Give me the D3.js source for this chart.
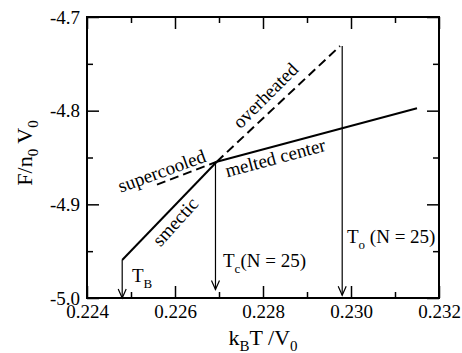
<!DOCTYPE html>
<html>
<head>
<meta charset="utf-8">
<script src="https://cdn.jsdelivr.net/npm/d3@7"></script>
<style>
  body { margin: 0; background: #fff; }
  svg text { font-family: "Liberation Serif", "Times New Roman", Times, "DejaVu Serif", serif; fill: #000; }
</style>
</head>
<body>
<svg id="chart" width="462" height="353"></svg>
<script>
// tick values
const xMajor = [0.224, 0.226, 0.228, 0.230, 0.232];
const xMinor = [0.225, 0.227, 0.229, 0.231];
const yMajor = [-5.0, -4.9, -4.8, -4.7];
const yMinor = [-4.95, -4.85, -4.75];

// branches (k_B T / V0 , F / n0 V0)
const smecticT = [0.2248, 0.22695];
const smecticF = [-4.9595, -4.8545];
const meltedT = [0.22695, 0.2315];
const meltedF = [-4.8545, -4.7975];
const overheatedT = [0.22695, 0.22975];
const overheatedF = [-4.8545, -4.731];
const supercooledT = [0.22559, 0.22695];
const supercooledF = [-4.879, -4.8545];

// vertical arrows: x, top, bottom
const arrowT = [0.2248, 0.22692, 0.2298];
const arrowTop = [-4.9595, -4.8545, -4.731];
const arrowBottom = [-5.0, -4.991, -4.997];

const FONT = '"Liberation Serif", "Times New Roman", Times, "DejaVu Serif", serif';
const margin = {left: 87, top: 17, right: 23, bottom: 55};
const W = 462, H = 353;
const svg = d3.select("#chart");
const g = svg.append("g").attr("transform", `translate(${margin.left},${margin.top})`);
const w = W - margin.left - margin.right, h = H - margin.top - margin.bottom;

const x = d3.scaleLinear().domain([0.224, 0.232]).range([0, w]);
const y = d3.scaleLinear().domain([-5.0, -4.7]).range([h, 0]);

function styleAxis(sel) {
  sel.attr("font-family", null).attr("font-size", null);
  sel.select(".domain").remove();
  sel.selectAll("line").attr("stroke", "#000").attr("stroke-width", 1.5);
  sel.selectAll("text").style("font-family", FONT).style("font-size", "19px").attr("fill", "#000");
}

// major + minor ticks on all four sides
g.append("g").attr("transform", `translate(0,${h})`)
  .call(d3.axisBottom(x).tickValues(xMajor).tickSize(-12).tickSizeOuter(0).tickPadding(7).tickFormat(d => d.toFixed(3)))
  .call(styleAxis);
g.append("g").attr("transform", `translate(0,${h})`)
  .call(d3.axisBottom(x).tickValues(xMinor).tickSize(-6).tickSizeOuter(0).tickFormat(""))
  .call(styleAxis);
g.append("g")
  .call(d3.axisTop(x).tickValues(xMajor).tickSize(-12).tickSizeOuter(0).tickFormat(""))
  .call(styleAxis);
g.append("g")
  .call(d3.axisTop(x).tickValues(xMinor).tickSize(-6).tickSizeOuter(0).tickFormat(""))
  .call(styleAxis);
g.append("g")
  .call(d3.axisLeft(y).tickValues(yMajor).tickSize(-12).tickSizeOuter(0).tickPadding(7).tickFormat(d => d.toFixed(1)))
  .call(styleAxis);
g.append("g")
  .call(d3.axisLeft(y).tickValues(yMinor).tickSize(-6).tickSizeOuter(0).tickFormat(""))
  .call(styleAxis);
g.append("g").attr("transform", `translate(${w},0)`)
  .call(d3.axisRight(y).tickValues(yMajor).tickSize(-12).tickSizeOuter(0).tickFormat(""))
  .call(styleAxis);
g.append("g").attr("transform", `translate(${w},0)`)
  .call(d3.axisRight(y).tickValues(yMinor).tickSize(-6).tickSizeOuter(0).tickFormat(""))
  .call(styleAxis);

g.append("rect").attr("width", w).attr("height", h)
  .attr("fill", "none").attr("stroke", "#000").attr("stroke-width", 2);

const line = d3.line().x(d => x(d[0])).y(d => y(d[1]));
function branch(T, F, dashed) {
  g.append("path").datum(d3.zip(T, F)).attr("d", line)
    .attr("fill", "none").attr("stroke", "#000").attr("stroke-width", 2)
    .attr("stroke-dasharray", dashed ? "9,5" : null);
}
branch(smecticT, smecticF, false);
branch(meltedT, meltedF, false);
branch(overheatedT, overheatedF, true);
branch(supercooledT, supercooledF, true);

// arrows
arrowT.forEach((t, i) => {
  const ax = x(t), y0 = y(arrowTop[i]), y1 = y(arrowBottom[i]);
  g.append("line").attr("x1", ax).attr("x2", ax).attr("y1", y0).attr("y2", y1)
    .attr("stroke", "#000").attr("stroke-width", 1.2);
  g.append("path").attr("d", `M${ax - 4},${y1 - 9}L${ax},${y1}L${ax + 4},${y1 - 9}`)
    .attr("fill", "none").attr("stroke", "#000").attr("stroke-width", 1.2);
});

// branch labels
function label(txt, px, py, angle) {
  svg.append("text").attr("transform", `translate(${px},${py}) rotate(${angle})`)
    .attr("text-anchor", "middle").style("font-family", FONT).style("font-size", "19px").text(txt);
}
label("supercooled", 164, 177, -20);
label("overheated", 270, 100, -45);
label("smectic", 180, 226, -48);
label("melted center", 277, 164, -15);

// temperature labels with subscripts
function tempLabel(px, py, sub, rest) {
  const t = svg.append("text").attr("x", px).attr("y", py).style("font-family", FONT).style("font-size", "19px");
  t.append("tspan").text("T");
  t.append("tspan").attr("dy", 6).style("font-size", "13px").text(sub);
  if (rest) t.append("tspan").attr("dy", -6).text(rest);
}
tempLabel(132, 282, "B", null);
tempLabel(223, 267, "c", "(N = 25)");
tempLabel(347, 243, "o", " (N = 25)");

// axis titles
const xt = svg.append("text").attr("x", margin.left + w / 2).attr("y", 345)
  .attr("text-anchor", "middle").style("font-family", FONT).style("font-size", "22px");
xt.append("tspan").text("k");
xt.append("tspan").attr("dy", 6).style("font-size", "15px").text("B");
xt.append("tspan").attr("dy", -6).text("T /V");
xt.append("tspan").attr("dy", 6).style("font-size", "15px").text("0");

const yt = svg.append("text").attr("transform", "translate(32,153) rotate(-90)")
  .attr("text-anchor", "middle").style("font-family", FONT).style("font-size", "22px");
yt.append("tspan").text("F/n");
yt.append("tspan").attr("dy", 6).style("font-size", "15px").text("0");
yt.append("tspan").attr("dy", -6).text(" V");
yt.append("tspan").attr("dy", 6).style("font-size", "15px").text("0");
</script>
</body>
</html>
